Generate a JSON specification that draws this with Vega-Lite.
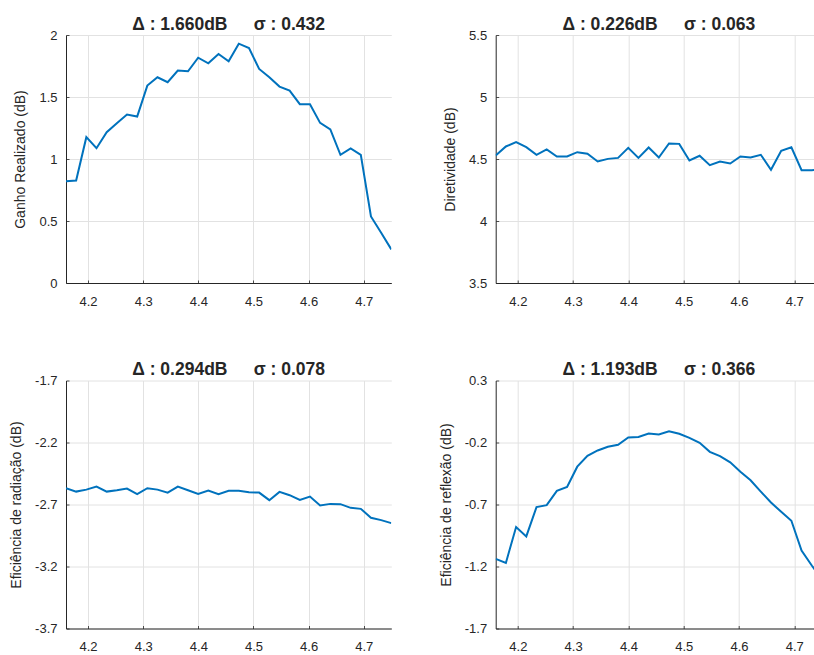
{
  "$schema": "https://vega.github.io/schema/vega-lite/v6.json",
  "padding": {"left": 9, "top": 15, "right": 0, "bottom": 0},
  "datasets": {
    "d": [
      {"f": 4.16, "gain": 0.821, "dir": 4.528, "rad": -2.569, "refl": -1.139},
      {"f": 4.1784, "gain": 0.827, "dir": 4.601, "rad": -2.596, "refl": -1.171},
      {"f": 4.1969, "gain": 1.176, "dir": 4.636, "rad": -2.580, "refl": -0.882},
      {"f": 4.2153, "gain": 1.087, "dir": 4.595, "rad": -2.556, "refl": -0.957},
      {"f": 4.2338, "gain": 1.216, "dir": 4.534, "rad": -2.596, "refl": -0.721},
      {"f": 4.2522, "gain": 1.289, "dir": 4.577, "rad": -2.585, "refl": -0.705},
      {"f": 4.2706, "gain": 1.358, "dir": 4.520, "rad": -2.572, "refl": -0.590},
      {"f": 4.2891, "gain": 1.342, "dir": 4.520, "rad": -2.617, "refl": -0.558},
      {"f": 4.3075, "gain": 1.592, "dir": 4.555, "rad": -2.569, "refl": -0.395},
      {"f": 4.3259, "gain": 1.659, "dir": 4.542, "rad": -2.580, "refl": -0.307},
      {"f": 4.3444, "gain": 1.619, "dir": 4.480, "rad": -2.604, "refl": -0.264},
      {"f": 4.3628, "gain": 1.713, "dir": 4.501, "rad": -2.556, "refl": -0.235},
      {"f": 4.3813, "gain": 1.707, "dir": 4.509, "rad": -2.585, "refl": -0.219},
      {"f": 4.3997, "gain": 1.817, "dir": 4.590, "rad": -2.614, "refl": -0.160},
      {"f": 4.4181, "gain": 1.772, "dir": 4.509, "rad": -2.588, "refl": -0.155},
      {"f": 4.4366, "gain": 1.847, "dir": 4.593, "rad": -2.617, "refl": -0.128},
      {"f": 4.455, "gain": 1.788, "dir": 4.512, "rad": -2.590, "refl": -0.136},
      {"f": 4.4734, "gain": 1.930, "dir": 4.625, "rad": -2.590, "refl": -0.109},
      {"f": 4.4919, "gain": 1.895, "dir": 4.622, "rad": -2.601, "refl": -0.130},
      {"f": 4.5103, "gain": 1.726, "dir": 4.488, "rad": -2.604, "refl": -0.163},
      {"f": 4.5288, "gain": 1.659, "dir": 4.526, "rad": -2.665, "refl": -0.203},
      {"f": 4.5472, "gain": 1.584, "dir": 4.450, "rad": -2.598, "refl": -0.275},
      {"f": 4.5656, "gain": 1.552, "dir": 4.480, "rad": -2.625, "refl": -0.310},
      {"f": 4.5841, "gain": 1.442, "dir": 4.464, "rad": -2.663, "refl": -0.360},
      {"f": 4.6025, "gain": 1.442, "dir": 4.520, "rad": -2.636, "refl": -0.435},
      {"f": 4.6209, "gain": 1.291, "dir": 4.512, "rad": -2.708, "refl": -0.505},
      {"f": 4.6394, "gain": 1.238, "dir": 4.534, "rad": -2.695, "refl": -0.596},
      {"f": 4.6578, "gain": 1.034, "dir": 4.413, "rad": -2.697, "refl": -0.684},
      {"f": 4.6763, "gain": 1.085, "dir": 4.566, "rad": -2.727, "refl": -0.759},
      {"f": 4.6947, "gain": 1.034, "dir": 4.595, "rad": -2.735, "refl": -0.831},
      {"f": 4.7131, "gain": 0.537, "dir": 4.410, "rad": -2.807, "refl": -1.072},
      {"f": 4.7316, "gain": 0.405, "dir": 4.410, "rad": -2.826, "refl": -1.192},
      {"f": 4.75, "gain": 0.271, "dir": 4.412, "rad": -2.850, "refl": -1.302}
    ]
  },
  "data": {"name": "d"},
  "columns": 2,
  "bounds": "flush",
  "spacing": {"row": 97.5, "column": 103.7},
  "concat": [
    {
      "width": 325.3,
      "height": 248,
      "title": {"text": "Δ : 1.660dB\u2003\u2002σ : 0.432"},
      "mark": {"type": "line", "color": "#0072BD", "strokeWidth": 2, "clip": true},
      "encoding": {
        "x": {"field": "f", "type": "quantitative", "scale": {"domain": [4.16, 4.75], "nice": false, "zero": false}, "axis": {"values": [4.2, 4.3, 4.4, 4.5, 4.6, 4.7], "format": ".1f", "title": null}},
        "y": {"field": "gain", "type": "quantitative", "scale": {"domain": [0, 2], "nice": false, "zero": false}, "axis": {"values": [0, 0.5, 1, 1.5, 2], "labelExpr": "toString(datum.value)", "title": "Ganho Realizado (dB)"}}
      }
    },
    {
      "width": 318.3,
      "height": 248,
      "title": {"text": "Δ : 0.226dB\u2003\u2002σ : 0.063", "dx": 4},
      "mark": {"type": "line", "color": "#0072BD", "strokeWidth": 2, "clip": true},
      "encoding": {
        "x": {"field": "f", "type": "quantitative", "scale": {"domain": [4.16, 4.7356], "nice": false, "zero": false}, "axis": {"values": [4.2, 4.3, 4.4, 4.5, 4.6, 4.7], "format": ".1f", "title": null}},
        "y": {"field": "dir", "type": "quantitative", "scale": {"domain": [3.5, 5.5], "nice": false, "zero": false}, "axis": {"values": [3.5, 4, 4.5, 5, 5.5], "labelExpr": "toString(datum.value)", "title": "Diretividade (dB)"}}
      }
    },
    {
      "width": 325.3,
      "height": 248,
      "title": {"text": "Δ : 0.294dB\u2003\u2002σ : 0.078"},
      "mark": {"type": "line", "color": "#0072BD", "strokeWidth": 2, "clip": true},
      "encoding": {
        "x": {"field": "f", "type": "quantitative", "scale": {"domain": [4.16, 4.75], "nice": false, "zero": false}, "axis": {"values": [4.2, 4.3, 4.4, 4.5, 4.6, 4.7], "format": ".1f", "title": null}},
        "y": {"field": "rad", "type": "quantitative", "scale": {"domain": [-3.7, -1.7], "nice": false, "zero": false}, "axis": {"values": [-3.7, -3.2, -2.7, -2.2, -1.7], "labelExpr": "toString(datum.value)", "title": "Eficiência de radiação (dB)"}}
      }
    },
    {
      "width": 318.3,
      "height": 248,
      "title": {"text": "Δ : 1.193dB\u2003\u2002σ : 0.366", "dx": 4},
      "mark": {"type": "line", "color": "#0072BD", "strokeWidth": 2, "clip": true},
      "encoding": {
        "x": {"field": "f", "type": "quantitative", "scale": {"domain": [4.16, 4.7356], "nice": false, "zero": false}, "axis": {"values": [4.2, 4.3, 4.4, 4.5, 4.6, 4.7], "format": ".1f", "title": null}},
        "y": {"field": "refl", "type": "quantitative", "scale": {"domain": [-1.7, 0.3], "nice": false, "zero": false}, "axis": {"values": [-1.7, -1.2, -0.7, -0.2, 0.3], "labelExpr": "toString(datum.value)", "title": "Eficiência de reflexão (dB)"}}
      }
    }
  ],
  "config": {
    "view": {"stroke": null},
    "font": "Liberation Sans",
    "axis": {
      "labelFont": "Liberation Sans",
      "labelFontSize": 13,
      "labelColor": "#262626",
      "titleFont": "Liberation Sans",
      "titleFontSize": 14,
      "titleFontWeight": "normal",
      "titleColor": "#262626",
      "domainColor": "#262626",
      "domainWidth": 1,
      "tickColor": "#262626",
      "tickWidth": 0.8,
      "tickSize": -3,
      "grid": true,
      "gridColor": "#e2e2e2",
      "gridWidth": 1
    },
    "axisX": {"labelPadding": 15},
    "axisY": {"labelPadding": 12, "titlePadding": 11},
    "title": {"font": "Liberation Sans", "fontSize": 17.5, "fontWeight": "bold", "color": "#262626", "offset": 0, "dy": 8, "frame": "group"}
  }
}
